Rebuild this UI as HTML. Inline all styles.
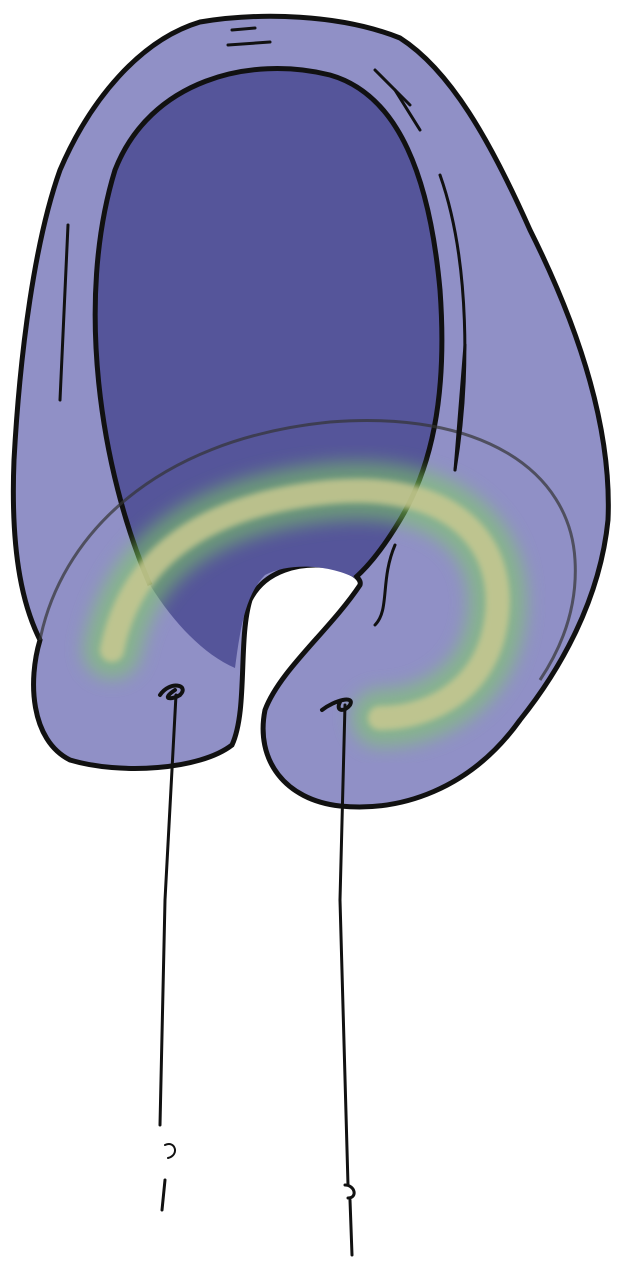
<!DOCTYPE html>
<html><head><meta charset="utf-8"><style>html,body{margin:0;padding:0;background:#fff}svg{display:block}</style></head>
<body>
<svg width="624" height="1266" viewBox="0 0 624 1266" xmlns="http://www.w3.org/2000/svg">
<defs>
<filter id="blur" x="-20%" y="-20%" width="140%" height="140%"><feGaussianBlur stdDeviation="9"/></filter>
<filter id="blur2"><feGaussianBlur stdDeviation="3"/></filter>
</defs>
<path d="M40,640 C28,680 30,740 70,760 C120,775 200,770 232,745 C248,710 238,640 250,600 C265,570 300,562 330,566 C350,570 362,578 360,585 C330,630 280,670 265,710 C255,760 285,800 340,806 C400,812 470,790 520,720 C560,670 600,600 608,520 C612,430 580,330 530,230 C490,140 450,70 400,38 C340,14 260,12 200,22 C140,40 90,100 60,170 C35,240 20,350 14,460 C10,560 25,610 40,640 Z" fill="#9090c6" stroke="#111" stroke-width="5"/>
<path d="M150,585 C100,470 75,300 115,170 C150,80 250,55 330,75 C400,95 430,180 440,290 C448,400 430,470 400,520 C385,545 370,565 355,578 C330,565 290,562 265,575 C245,595 240,630 235,668 C205,655 175,625 150,585 Z" fill="#55559a"/>
<path d="M150,585 C100,470 75,300 115,170 C150,80 250,55 330,75 C400,95 430,180 440,290 C448,400 430,470 400,520 C385,545 370,565 355,578" fill="none" stroke="#111" stroke-width="5"/>
<path d="M40,640 C60,540 150,440 330,422 C480,410 570,470 575,560 C578,610 560,650 540,680" fill="none" stroke="#333" stroke-width="3" opacity="0.7"/>
<path d="M112,650 C130,560 200,505 330,492 C470,480 515,560 492,640 C475,695 425,718 380,718" fill="none" stroke="#7fd060" stroke-width="58" stroke-linecap="round" opacity="0.55" filter="url(#blur)"/>
<path d="M112,650 C130,560 200,505 330,492 C470,480 515,560 492,640 C475,695 425,718 380,718" fill="none" stroke="#c8c890" stroke-width="24" stroke-linecap="round" opacity="0.85" filter="url(#blur2)"/>
<g fill="none" stroke="#111" stroke-width="3" stroke-linecap="round">
<path d="M228,45 L270,42"/><path d="M232,30 L255,28"/>
<path d="M375,70 L410,105"/><path d="M395,90 L420,130"/>
<path d="M68,225 L60,400"/><path d="M465,345 L455,470"/>
<path d="M440,175 C470,260 470,380 455,470"/>
<path d="M395,545 C380,580 390,610 375,625"/>
</g>
<g fill="none" stroke="#111" stroke-linecap="round">
<path d="M160,695 C170,680 190,685 180,695 C172,700 160,700 175,690" stroke-width="4"/>
<path d="M176,695 L165,900 L160,1125" stroke-width="3"/>
<path d="M165,1145 C175,1140 180,1155 168,1158" stroke-width="2"/>
<path d="M165,1180 L162,1210" stroke-width="3"/>
</g>
<g fill="none" stroke="#111" stroke-linecap="round">
<path d="M322,710 C335,700 355,695 350,705 C345,712 335,712 340,702" stroke-width="4"/>
<path d="M345,705 L340,900 L348,1185" stroke-width="3"/>
<path d="M345,1185 C355,1185 358,1198 348,1198" stroke-width="3"/>
<path d="M350,1200 L352,1255" stroke-width="3"/>
</g>
</svg>
</body></html>
